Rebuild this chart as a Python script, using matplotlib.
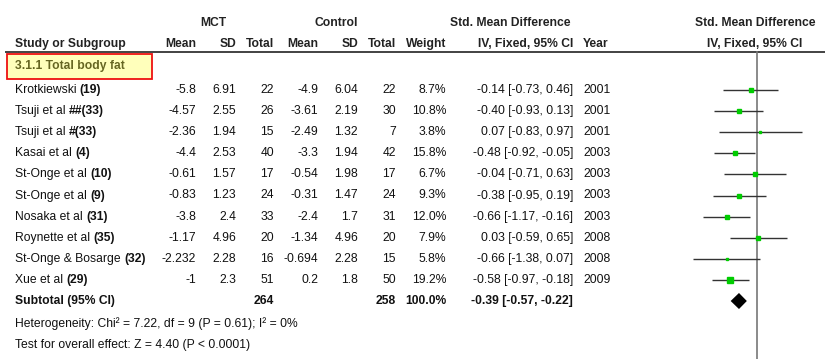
import numpy as np
import matplotlib
matplotlib.use("Agg")
import matplotlib.pyplot as plt
from matplotlib.patches import Rectangle

plt.rcParams["font.family"] = ["Liberation Sans", "DejaVu Sans"]

# Study data (MCT vs control, total body fat)
studies = ["Krotkiewski", "Tsuji et al", "Tsuji et al", "Kasai et al", "St-Onge et al",
           "St-Onge et al", "Nosaka et al", "Roynette et al", "St-Onge & Bosarge", "Xue et al"]
refs = ["(19)", "##(33)", "#(33)", "(4)", "(10)", "(9)", "(31)", "(35)", "(32)", "(29)"]
mct_mean = [-5.8, -4.57, -2.36, -4.4, -0.61, -0.83, -3.8, -1.17, -2.232, -1]
mct_sd = [6.91, 2.55, 1.94, 2.53, 1.57, 1.23, 2.4, 4.96, 2.28, 2.3]
mct_n = [22, 26, 15, 40, 17, 24, 33, 20, 16, 51]
ctl_mean = [-4.9, -3.61, -2.49, -3.3, -0.54, -0.31, -2.4, -1.34, -0.694, 0.2]
ctl_sd = [6.04, 2.19, 1.32, 1.94, 1.98, 1.47, 1.7, 4.96, 2.28, 1.8]
ctl_n = [22, 30, 7, 42, 17, 24, 31, 20, 15, 50]
weights = [8.7, 10.8, 3.8, 15.8, 6.7, 9.3, 12.0, 7.9, 5.8, 19.2]
smd = [-0.14, -0.40, 0.07, -0.48, -0.04, -0.38, -0.66, 0.03, -0.66, -0.58]
ci_lo = [-0.73, -0.93, -0.83, -0.92, -0.71, -0.95, -1.17, -0.59, -1.38, -0.97]
ci_hi = [0.46, 0.13, 0.97, -0.05, 0.63, 0.19, -0.16, 0.65, 0.07, -0.18]
years = [2001, 2001, 2001, 2003, 2003, 2003, 2003, 2008, 2008, 2009]

pooled = (-0.39, -0.57, -0.22)
mct_total, ctl_total = 264, 258
heterogeneity = "Heterogeneity: Chi² = 7.22, df = 9 (P = 0.61); I² = 0%"
overall = "Test for overall effect: Z = 4.40 (P < 0.0001)"

W, H = 825, 359
FS = 8.7
ROW0, ROWH = 90, 21.1  # pixel y of first study row, row spacing


def row(px):
    return (px - ROW0) / ROWH


fig = plt.figure(figsize=(W / 100, H / 100), dpi=100)
tab = fig.add_axes([0, 0, 1, 1])
tab.set_xlim(0, W)
tab.set_ylim(row(H), row(0))
tab.axis("off")

# forest panel, zero line at x=757 px, ~46.2 px per unit
px_per_unit = 46.2
x0_px = 757
f_left = 640
fa = fig.add_axes([f_left / W, 0, (W - f_left) / W, 1])
fa.set_xlim((f_left - x0_px) / px_per_unit, (W - x0_px) / px_per_unit)
fa.set_ylim(row(H), row(0))
fa.axis("off")

# column anchors (px)
col_right = {"mm": 196, "msd": 236, "mn": 274, "cm": 318, "csd": 358, "cn": 396,
             "w": 446, "ci": 573}
x_name, x_year = 15, 583
h1, h2 = row(23), row(44)

hdr = dict(fontsize=FS, fontweight="bold", color="#222222", va="center")
tab.text(213, h1, "MCT", ha="center", **hdr)
tab.text(336, h1, "Control", ha="center", **hdr)
tab.text(510, h1, "Std. Mean Difference", ha="center", **hdr)
tab.text(755, h1, "Std. Mean Difference", ha="center", **hdr)
tab.text(x_name, h2, "Study or Subgroup", ha="left", **hdr)
for key, lab in [("mm", "Mean"), ("msd", "SD"), ("mn", "Total"), ("cm", "Mean"),
                 ("csd", "SD"), ("cn", "Total"), ("w", "Weight"), ("ci", "IV, Fixed, 95% CI")]:
    tab.text(col_right[key], h2, lab, ha="right", **hdr)
tab.text(x_year, h2, "Year", ha="left", **hdr)
tab.text(755, h2, "IV, Fixed, 95% CI", ha="center", **hdr)
tab.hlines(row(52), 5, W, color="#222222", lw=1.2)

# subgroup box
tab.add_patch(Rectangle((7, row(54)), 145, row(79) - row(54), facecolor="#FFFFBB",
                        edgecolor="#EE1111", lw=1.3))
tab.text(15, row(66.5), "3.1.1 Total body fat", fontsize=FS, fontweight="bold",
         color="#666622", va="center", ha="left")

body = dict(fontsize=FS, color="#111111", va="center")
for i in range(len(studies)):
    t = tab.text(x_name, i, studies[i] + " ", ha="left", **body)
    tab.annotate(refs[i], xy=(1, 0.5), xycoords=t, ha="left", va="center",
                 fontsize=FS, fontweight="bold", color="#111111")
    vals = [("mm", f"{mct_mean[i]:g}"), ("msd", f"{mct_sd[i]:g}"), ("mn", str(mct_n[i])),
            ("cm", f"{ctl_mean[i]:g}"), ("csd", f"{ctl_sd[i]:g}"), ("cn", str(ctl_n[i])),
            ("w", f"{weights[i]:.1f}%"),
            ("ci", f"{smd[i]:.2f} [{ci_lo[i]:.2f}, {ci_hi[i]:.2f}]")]
    for key, s in vals:
        tab.text(col_right[key], i, s, ha="right", **body)
    tab.text(x_year, i, str(years[i]), ha="left", **body)

# subtotal
n = len(studies)
bold = dict(fontsize=FS, fontweight="bold", color="#111111", va="center")
tab.text(x_name, n, "Subtotal (95% CI)", ha="left", **bold)
tab.text(col_right["mn"], n, str(mct_total), ha="right", **bold)
tab.text(col_right["cn"], n, str(ctl_total), ha="right", **bold)
tab.text(col_right["w"], n, f"{sum(weights):.1f}%", ha="right", **bold)
tab.text(col_right["ci"], n, f"{pooled[0]:.2f} [{pooled[1]:.2f}, {pooled[2]:.2f}]",
         ha="right", **bold)
tab.text(x_name, row(324), heterogeneity, ha="left", **body)
tab.text(x_name, row(345), overall, ha="left", **body)

# forest plot
fa.axvline(0, ymin=0, ymax=(row(H) - row(52)) / (row(H) - row(0)), color="#777777", lw=1.2)
ys = np.arange(n)
fa.hlines(ys, ci_lo, ci_hi, color="#333333", lw=1.0)
max_w = max(weights)
for i in range(n):
    fa.plot(smd[i], i, marker="s", ls="none", color="#00CC00", mec="#00CC00",
            markersize=3.8 * np.sqrt(weights[i] / max_w))
est, lo, hi = pooled
dh = 0.38
fa.fill([lo, est, hi, est], [n, n - dh, n, n + dh], color="black", lw=0)

fig.savefig("out.png", dpi=100)
